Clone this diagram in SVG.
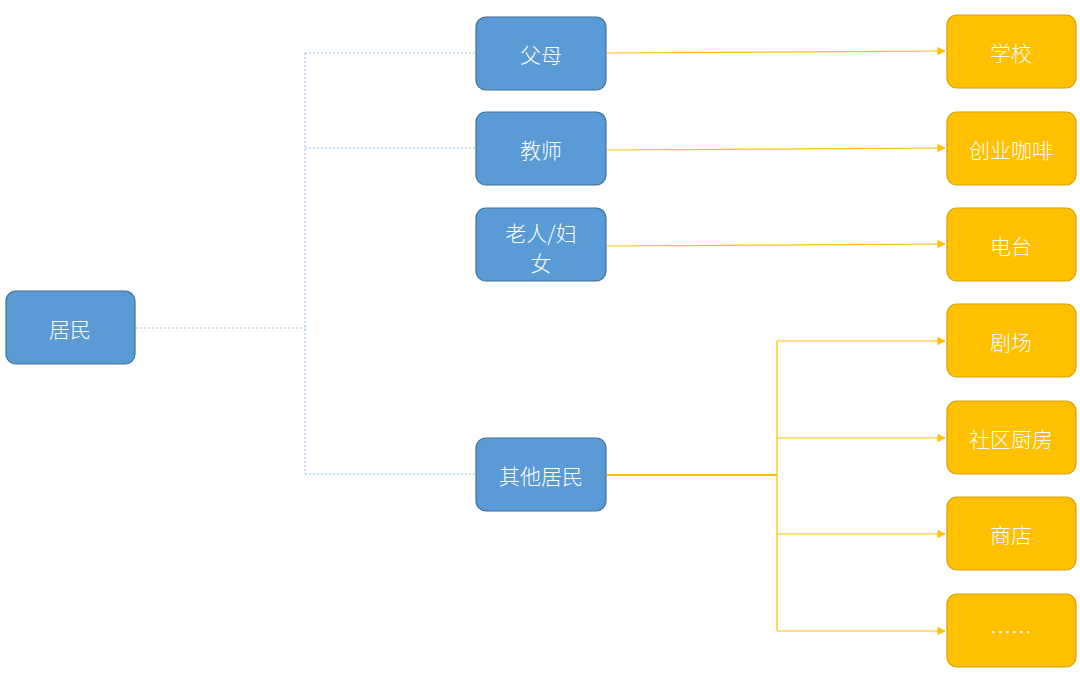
<svg xmlns="http://www.w3.org/2000/svg" width="1080" height="680" viewBox="0 0 1080 680">
<defs>
<style>
.b{fill:#5b9bd5;stroke:#41719c;stroke-width:1.2}
.y{fill:#ffc000;stroke:#d6a100;stroke-width:1.2}
.t{font-family:"Noto Sans CJK SC",sans-serif;font-size:21px;fill:#fff;text-anchor:middle;dominant-baseline:central;font-weight:300}
.d{fill:none;stroke:#9dc3e6;stroke-width:1.2;stroke-dasharray:2 2}
.s{fill:none;stroke:#ffc000;stroke-width:1.2}
.sb{fill:none;stroke:#ffc000;stroke-width:2}
</style>
<marker id="a" viewBox="0 0 10 10" refX="9" refY="5" markerWidth="7" markerHeight="7" orient="auto"><path d="M0,0L10,5L0,10z" fill="#ffc000"/></marker>
</defs>
<rect width="1080" height="680" fill="#fff"/>
<g id="connectors">
<path class="d" d="M136,328H305M305,53V474M305,53H476M305,148H476M305,474H476"/>
<path class="s" d="M607,53L945,51" marker-end="url(#a)"/>
<path class="s" d="M607,150L945,148" marker-end="url(#a)"/>
<path class="s" d="M607,246L945,244" marker-end="url(#a)"/>
<path class="sb" d="M607,475H777"/>
<path class="s" d="M777,341V631"/>
<path class="s" d="M777,341H945" marker-end="url(#a)"/>
<path class="s" d="M777,438H945" marker-end="url(#a)"/>
<path class="s" d="M777,534H945" marker-end="url(#a)"/>
<path class="s" d="M777,631H945" marker-end="url(#a)"/>
</g>
<g id="n1"><rect class="b" x="6" y="291" width="129" height="73" rx="10"/><text class="t" x="70" y="328">居民</text></g>
<g id="n2"><rect class="b" x="476" y="17" width="130" height="73" rx="10"/><text class="t" x="541" y="54">父母</text></g>
<g id="n3"><rect class="b" x="476" y="112" width="130" height="73" rx="10"/><text class="t" x="541" y="149">教师</text></g>
<g id="n4"><rect class="b" x="476" y="208" width="130" height="73" rx="10"/><text class="t" x="541" y="232">老人/妇</text><text class="t" x="541" y="262">女</text></g>
<g id="n5"><rect class="b" x="476" y="438" width="130" height="73" rx="10"/><text class="t" x="541" y="475">其他居民</text></g>
<g id="y1"><rect class="y" x="947" y="15" width="129" height="73" rx="10"/><text class="t" x="1011" y="52">学校</text></g>
<g id="y2"><rect class="y" x="947" y="112" width="129" height="73" rx="10"/><text class="t" x="1011" y="149">创业咖啡</text></g>
<g id="y3"><rect class="y" x="947" y="208" width="129" height="73" rx="10"/><text class="t" x="1011" y="245">电台</text></g>
<g id="y4"><rect class="y" x="947" y="304" width="129" height="73" rx="10"/><text class="t" x="1011" y="341">剧场</text></g>
<g id="y5"><rect class="y" x="947" y="401" width="129" height="73" rx="10"/><text class="t" x="1011" y="438">社区厨房</text></g>
<g id="y6"><rect class="y" x="947" y="497" width="129" height="73" rx="10"/><text class="t" x="1011" y="534">商店</text></g>
<g id="y7"><rect class="y" x="947" y="594" width="129" height="73" rx="10"/><text class="t" x="1011" y="631">……</text></g>
</svg>
